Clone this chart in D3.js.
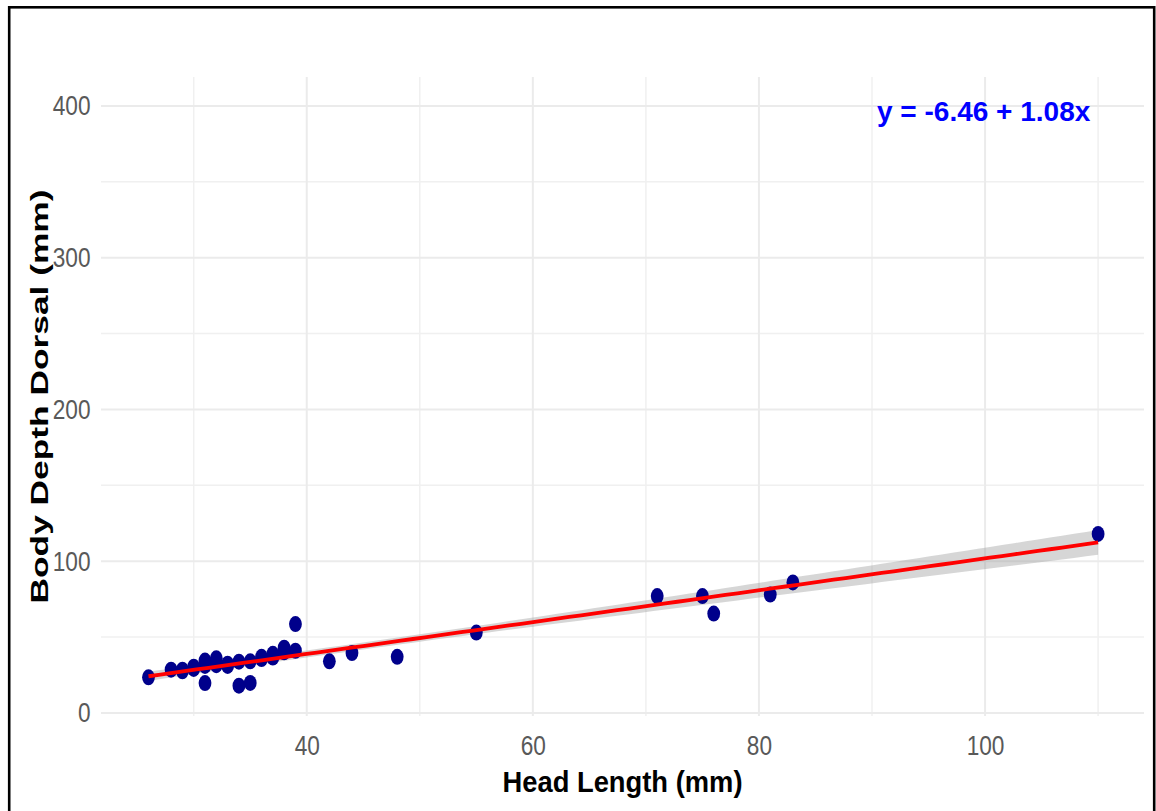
<!DOCTYPE html>
<html>
<head>
<meta charset="utf-8">
<script src="https://cdn.jsdelivr.net/npm/d3@7"></script>
<style>
  body { margin: 0; background: #fff; }
  svg { display: block; }
</style>
</head>
<body>
<div id="chart"></div>
<script>
// head length (mm) and body depth dorsal (mm)
// (the 28-39 mm cluster holds several overlapping markers)
const headLength = [26, 28, 29, 29, 30, 30, 31, 31, 31, 32, 32, 33, 33, 34, 34, 35, 35, 36, 36, 37, 37, 38, 38, 39, 39, 42, 44, 48, 55, 71, 75, 76, 81, 83, 110];
const bodyDepth  = [23.5, 28.5, 28.5, 27.5, 30.5, 29, 34.5, 19.7, 31, 36, 31.5, 31, 32.5, 33.8, 18, 19.8, 34, 37, 35.5, 39, 36.5, 43, 40, 58.6, 41, 34, 39.5, 37, 53, 77, 77, 65.5, 78, 86, 118];

const xTicks = [40, 60, 80, 100];
const xMinor = [30, 50, 70, 90, 110];
const yTicks = [0, 100, 200, 300, 400];
const yMinor = [50, 150, 250, 350];

const equationText = 'y = -6.46 + 1.08x';

const width = 1156, height = 811;
const panel = { left: 101, right: 1144, top: 77, bottom: 716 };

const svg = d3.select('#chart')
    .append('svg')
    .attr('width', width)
    .attr('height', height);

svg.append('rect').attr('width', width).attr('height', height).attr('fill', '#fff');

const x = d3.scaleLinear().domain([21.8, 114.06]).range([panel.left, panel.right]);
const y = d3.scaleLinear().domain([-2, 419.1]).range([panel.bottom, panel.top]);

// grid, minor first then major
const grid = svg.append('g');
grid.selectAll('line.xminor').data(xMinor).join('line')
    .attr('x1', d => x(d)).attr('x2', d => x(d))
    .attr('y1', panel.top).attr('y2', panel.bottom)
    .attr('stroke', '#f0f0f0').attr('stroke-width', 1.5);
grid.selectAll('line.yminor').data(yMinor).join('line')
    .attr('y1', d => y(d)).attr('y2', d => y(d))
    .attr('x1', panel.left).attr('x2', panel.right)
    .attr('stroke', '#f0f0f0').attr('stroke-width', 1.5);
grid.selectAll('line.xmajor').data(xTicks).join('line')
    .attr('x1', d => x(d)).attr('x2', d => x(d))
    .attr('y1', panel.top).attr('y2', panel.bottom)
    .attr('stroke', '#ebebeb').attr('stroke-width', 2);
grid.selectAll('line.ymajor').data(yTicks).join('line')
    .attr('y1', d => y(d)).attr('y2', d => y(d))
    .attr('x1', panel.left).attr('x2', panel.right)
    .attr('stroke', '#ebebeb').attr('stroke-width', 2);

// axes (labels only); the tick font is a narrow one, so squeeze the glyphs
const xAxis = svg.append('g')
    .attr('transform', `translate(0,${panel.bottom})`)
    .call(d3.axisBottom(x).tickValues(xTicks).tickSize(0).tickPadding(19));
const yAxis = svg.append('g')
    .attr('transform', `translate(${panel.left},0)`)
    .call(d3.axisLeft(y).tickValues(yTicks).tickSize(0).tickPadding(10.5));

[xAxis, yAxis].forEach(a => {
    a.select('.domain').remove();
    a.selectAll('text')
        .style('font-family', '"Liberation Sans", Arial, sans-serif')
        .style('font-size', '28px')
        .attr('textLength', d => String(d).length * 12.6)
        .attr('lengthAdjust', 'spacingAndGlyphs')
        .attr('fill', '#595959');
});

// linear fit with 95% confidence band, like geom_smooth(method = 'lm')
const n = headLength.length;
const mx = d3.mean(headLength), my = d3.mean(bodyDepth);
let sxx = 0, sxy = 0;
headLength.forEach((v, i) => {
    sxx += (v - mx) * (v - mx);
    sxy += (v - mx) * (bodyDepth[i] - my);
});
const slope = sxy / sxx;
const intercept = my - slope * mx;
let sse = 0;
headLength.forEach((v, i) => {
    const r = bodyDepth[i] - (intercept + slope * v);
    sse += r * r;
});
const sigma = Math.sqrt(sse / (n - 2));
const tCrit = 2.035; // t(0.975, df = n - 2)

const xMin = d3.min(headLength), xMax = d3.max(headLength);
const fit = d3.range(80).map(i => {
    const xv = xMin + (xMax - xMin) * i / 79;
    const fv = intercept + slope * xv;
    const se = sigma * Math.sqrt(1 / n + (xv - mx) * (xv - mx) / sxx);
    return { x: xv, y: fv, lo: fv - tCrit * se, hi: fv + tCrit * se };
});

svg.append('path')
    .datum(fit)
    .attr('fill', '#999999')
    .attr('fill-opacity', 0.4)
    .attr('d', d3.area().x(d => x(d.x)).y0(d => y(d.lo)).y1(d => y(d.hi)));

// points
svg.append('g').selectAll('ellipse')
    .data(headLength.map((v, i) => ({ x: v, y: bodyDepth[i] })))
    .join('ellipse')
    .attr('cx', d => x(d.x))
    .attr('cy', d => y(d.y))
    .attr('rx', 6.4)
    .attr('ry', 8)
    .attr('fill', '#00008b');

svg.append('path')
    .datum(fit)
    .attr('fill', 'none')
    .attr('stroke', '#ff0000')
    .attr('stroke-width', 3.8)
    .attr('d', d3.line().x(d => x(d.x)).y(d => y(d.y)));

// equation label
svg.append('text')
    .attr('x', 877)
    .attr('y', 121)
    .style('font-family', '"Liberation Sans", Arial, sans-serif')
    .style('font-weight', 'bold')
    .style('font-size', '28px')
    .attr('fill', '#0000ff')
    .text(equationText);

// axis titles
svg.append('text')
    .attr('x', (panel.left + panel.right) / 2)
    .attr('y', 792)
    .attr('text-anchor', 'middle')
    .style('font-family', '"Liberation Sans", Arial, sans-serif')
    .style('font-weight', 'bold')
    .style('font-size', '29px')
    .attr('textLength', 240)
    .attr('lengthAdjust', 'spacingAndGlyphs')
    .attr('fill', '#000')
    .text('Head Length (mm)');

svg.append('text')
    .attr('transform', `translate(48,${(panel.top + panel.bottom) / 2}) rotate(-90)`)
    .attr('text-anchor', 'middle')
    .style('font-family', '"Liberation Sans", Arial, sans-serif')
    .style('font-weight', 'bold')
    .style('font-size', '23px')
    .attr('textLength', 414)
    .attr('lengthAdjust', 'spacingAndGlyphs')
    .attr('fill', '#000')
    .text('Body Depth Dorsal (mm)');

// outer frame
svg.append('rect')
    .attr('x', 9.2)
    .attr('y', 7.3)
    .attr('width', 1145)
    .attr('height', 830)
    .attr('fill', 'none')
    .attr('stroke', '#000')
    .attr('stroke-width', 2.6);
</script>
</body>
</html>
